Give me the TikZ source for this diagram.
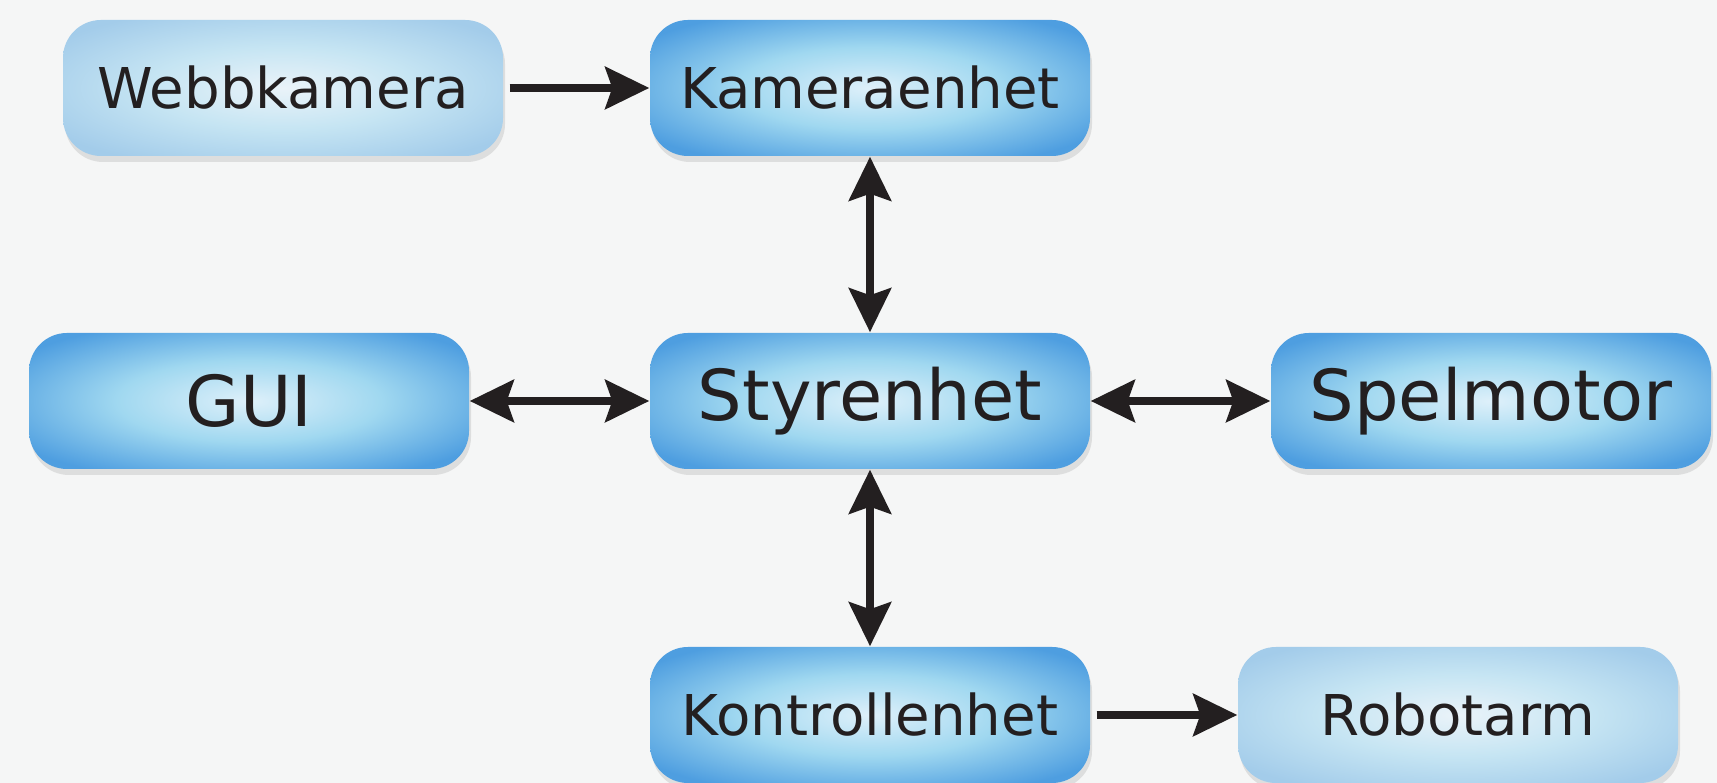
\documentclass[tikz,border=0pt]{standalone}
\usepackage{fontspec}
\setmainfont{DejaVu Sans}
\usetikzlibrary{arrows.meta,shadows}

\definecolor{bggray}{RGB}{245,246,246}
\definecolor{inkblack}{RGB}{35,31,32}
\definecolor{glowcore}{RGB}{222,240,250}
\definecolor{glowmid}{RGB}{160,216,240}
\definecolor{glowblue}{RGB}{78,158,224}
\definecolor{glowdark}{RGB}{50,100,160}
\definecolor{palecore}{RGB}{234,243,249}
\definecolor{palemid}{RGB}{198,229,243}
\definecolor{paleblue}{RGB}{163,204,234}
\definecolor{paledark}{RGB}{145,172,200}

\pgfdeclareradialshading{darkglow}{\pgfpointorigin}{color(0bp)=(glowcore); color(15bp)=(glowmid); color(31bp)=(glowblue); color(37bp)=(glowblue); color(47bp)=(glowdark); color(50bp)=(glowdark)}
\pgfdeclareradialshading{paleglow}{\pgfpointorigin}{color(0bp)=(palecore); color(15bp)=(palemid); color(31bp)=(paleblue); color(37bp)=(paleblue); color(47bp)=(paledark); color(50bp)=(paledark)}

\begin{document}
\begin{tikzpicture}[
  font=\fontsize{16}{19}\selectfont,
  box/.style={rounded corners=0.38cm, minimum width=4.4cm, minimum height=1.36cm, text=inkblack,
    drop shadow={shadow xshift=0.02cm, shadow yshift=-0.06cm, opacity=0.2}},
  unit/.style={box, shading=darkglow},
  device/.style={box, shading=paleglow},
  big/.style={font=\fontsize{20}{24}\selectfont},
  arr/.style={draw=inkblack, line width=2.3pt, -{Stealth[length=4.4mm, width=4.2mm, inset=0.7mm]}},
  dblarr/.style={arr, {Stealth[length=4.4mm, width=4.2mm, inset=0.7mm]}-{Stealth[length=4.4mm, width=4.2mm, inset=0.7mm]}}
]
\useasboundingbox (0,0) rectangle (17.17,7.83);
\fill[bggray] (0,0) rectangle (17.17,7.83);

\node[device] (webcam) at (2.83,6.95) {Webbkamera};
\node[unit] (camunit) at (8.70,6.95) {Kameraenhet};
\node[unit, big] (gui) at (2.49,3.82) {GUI};
\node[unit, big] (steer) at (8.70,3.82) {Styrenhet};
\node[unit, big] (engine) at (14.91,3.82) {Spelmotor};
\node[unit] (control) at (8.70,0.68) {Kontrollenhet};
\node[device] (robot) at (14.58,0.68) {Robotarm};

\draw[arr, shorten <=0.06cm] (webcam.east) -- (camunit.west);
\draw[dblarr] (camunit.south) -- (steer.north);
\draw[dblarr] (gui.east) -- (steer.west);
\draw[dblarr] (steer.east) -- (engine.west);
\draw[dblarr] (steer.south) -- (control.north);
\draw[arr, shorten <=0.06cm] (control.east) -- (robot.west);
\end{tikzpicture}
\end{document}
